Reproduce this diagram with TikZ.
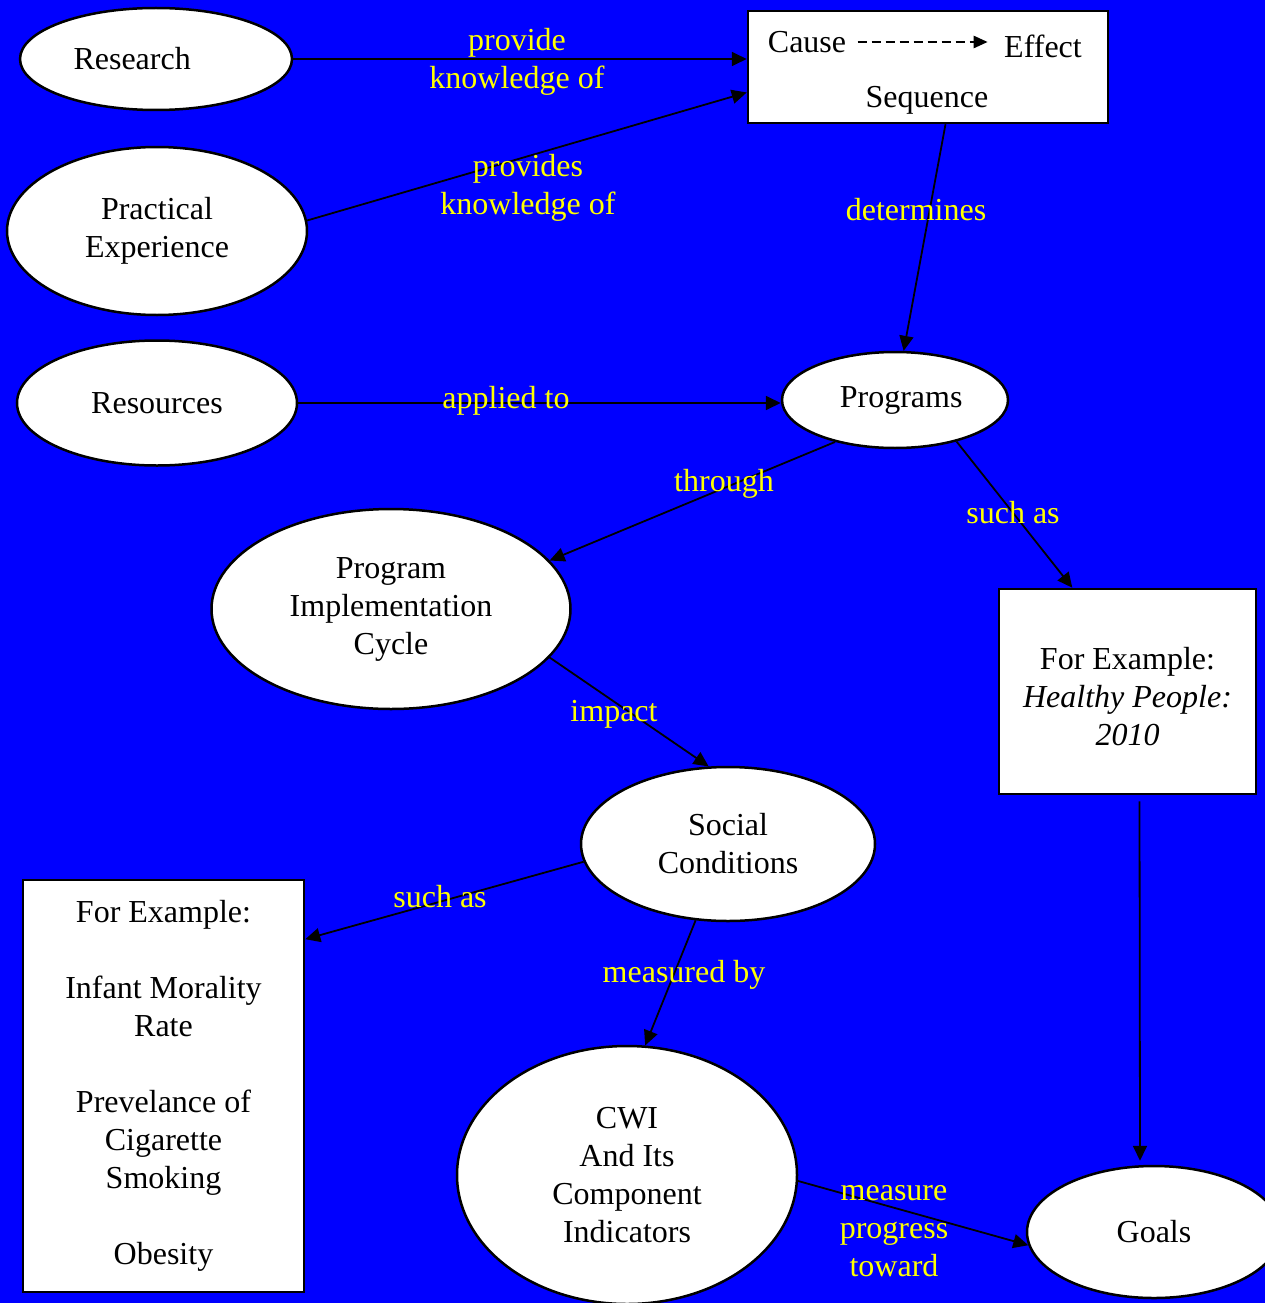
\documentclass[tikz,border=0pt]{standalone}
\usepackage{fontspec}
\setmainfont{Liberation Serif}
\usetikzlibrary{shapes.geometric,arrows.meta}
\definecolor{bgblue}{RGB}{0,0,255}
\definecolor{lblyellow}{RGB}{255,255,0}
\newcommand{\maptext}{\fontsize{32}{38}\selectfont}
\tikzset{
  oval/.style={ellipse,draw,fill=white,line width=2.5pt,inner sep=0pt,font=\maptext,align=center},
  panel/.style={rectangle,draw,fill=white,line width=2.5pt,inner sep=0pt,font=\maptext,align=center},
  link/.style={-{Triangle[length=15pt,width=14pt]},line width=1.8pt},
  dasharr/.style={-{Triangle[length=14pt,width=12pt]},line width=2.5pt,dash pattern=on 9pt off 5pt},
  lbl/.style={text=lblyellow,font=\maptext,align=center,inner sep=0pt}
}
\begin{document}
\begin{tikzpicture}[x=1pt,y=-1pt]
\fill[bgblue] (0,0) rectangle (1265,1303);
\useasboundingbox (0,0) rectangle (1265,1303);

% concepts
\node[oval,minimum width=272pt,minimum height=102pt] (research) at (156,59) {\makebox[165pt][l]{Research}};
\node[oval,minimum width=300pt,minimum height=168pt] (prac) at (157,231) {Practical\\Experience};
\node[oval,minimum width=280pt,minimum height=125pt] (resrc) at (157,403) {Resources};
\node[panel,minimum width=360pt,minimum height=112pt] (cbox) at (928,67) {};
\node[font=\maptext] (cause) at (807,42) {Cause};
\node[font=\maptext] (effect) at (1043,46) {Effect};
\node[font=\maptext] (seq) at (927,100) {Sequence};
\node[oval,minimum width=226pt,minimum height=96pt] (prog) at (895,400) {\makebox[135pt][r]{Programs}};
\node[oval,minimum width=359pt,minimum height=200pt] (pic) at (391,609) {Program\\Implementation\\Cycle};
\node[panel,minimum width=257pt,minimum height=205pt] (hp) at (1127.5,691.5) {\rule{0pt}{33pt}For Example:\\\textit{Healthy People:}\\\textit{2010}};
\node[oval,minimum width=294pt,minimum height=154pt] (social) at (728,844) {Social\\Conditions};
\node[panel,minimum width=281pt,minimum height=412pt] (lbox) at (163.5,1086)
  {For Example:\\[38pt]Infant Morality\\Rate\\[38pt]Prevelance of\\Cigarette\\Smoking\\[38pt]Obesity};
\node[oval,minimum width=340pt,minimum height=258pt] (cwi) at (627,1175) {CWI\\And Its\\Component\\Indicators};
\node[oval,minimum width=254pt,minimum height=132pt] (goals) at (1154,1232) {Goals};

% links
\draw[dasharr,shorten >=13pt] ([xshift=8pt]cause.east) -- (cause.east -| effect.west);
\draw[link] (research.east) -- (research.east -| cbox.west);
\draw[link] (prac.4) -- (cbox.188);
\draw[link] (cbox.-73) -- (prog.80);
\draw[link] (resrc.east) -- (resrc.east -| prog.west);
\draw[link] (prog.-145) -- (pic.17);
\draw[link] (prog.-34) -- (hp.118);
\draw[link] (pic.-17) -- (social.104);
\draw[link] (social.187) -- (lbox.46);
\draw[link] (social.-113) -- (cwi.82);
\draw[link] ([xshift=12pt,yshift=-6pt]hp.south) -- ([xshift=-14pt,yshift=4pt]goals.north);
\draw[link] (cwi.-2) -- (goals.186);

% link labels
\node[lbl] (l1) at (517,62) {provide\\knowledge of};
\node[lbl] (l2) at (528,188) {provides\\knowledge of};
\node[lbl] (l3) at (916,210) {determines};
\node[lbl] (l4) at (506,401) {applied to};
\node[lbl] (l5) at (724,484) {through};
\node[lbl] (l6) at (1013,513) {such as};
\node[lbl] (l7) at (614,714) {impact};
\node[lbl] (l8) at (440,897) {such as};
\node[lbl] (l9) at (684,975) {measured by};
\node[lbl] (l10) at (894,1231) {measure\\progress\\toward};
\end{tikzpicture}
\end{document}
